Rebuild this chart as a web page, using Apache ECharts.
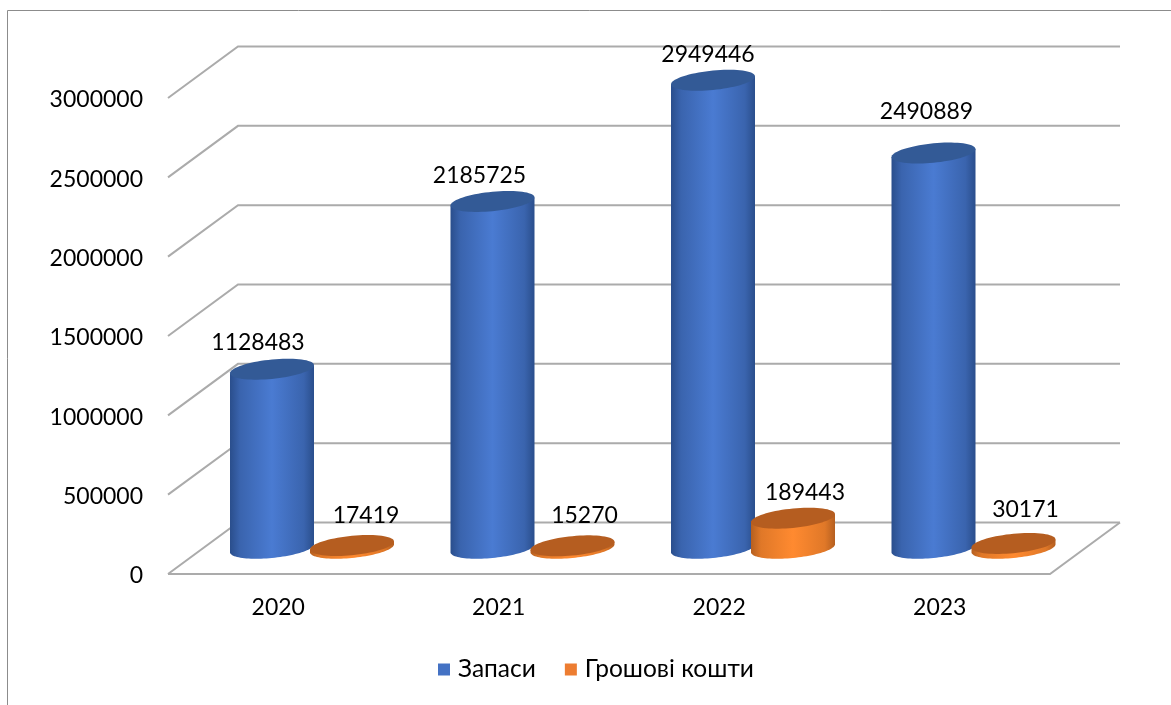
<!DOCTYPE html>
<html><head><meta charset="utf-8">
<style>html,body{margin:0;padding:0;background:#fff;overflow:hidden}#c{width:1171px;height:705px}</style>
<script src="https://cdn.jsdelivr.net/npm/echarts@6/dist/echarts.min.js"></script>
</head><body><div id="c"></div>
<script>
const categories = ['2020','2021','2022','2023'];
const zapasy = [1128483,2185725,2949446,2490889];
const koshty = [17419,15270,189443,30171];
const ticks = [0,500000,1000000,1500000,2000000,2500000,3000000];

// layout of the pseudo-3D view (pixels)
const DEPTH_X = 70, DEPTH_Y = 51.5;
const BAR_RX = 42, BAR_RY = 9.7, BAR_SHEAR = 4;
const FONT = 'Lato';
const FS = 23;
const labelShiftA = [[-14,-27],[-13,-26],[-5,-26],[-7,-41]];
const labelShiftB = [[14,-30],[12,-30],[12,-26],[12,-34]];

function ellipsePts(cx, cy, from, to, n){
  const pts=[];
  for(let i=0;i<=n;i++){
    const t=from+(to-from)*i/n;
    pts.push([cx+BAR_RX*Math.cos(t), cy+BAR_RY*Math.sin(t)-BAR_SHEAR*Math.cos(t)]);
  }
  return pts;
}
function hGrad(edge, mid, edge2){
  return {type:'linear',x:0,y:0,x2:1,y2:0,colorStops:[
    {offset:0,color:edge},{offset:0.12,color:edge2},{offset:0.5,color:mid},{offset:0.88,color:edge2},{offset:1,color:edge}]};
}
function cylinder(shiftX, cols, shifts){
  return function(params, api){
    const i = api.value(0), v = api.value(1);
    const base = api.coord([i,0]), top = api.coord([i,v]);
    const cx = base[0]+shiftX, by = base[1]-DEPTH_Y/2, ty = top[1]-DEPTH_Y/2;
    // body: left side from the top, along the lower half of the base ellipse, back up on the right
    const lowerBase = ellipsePts(cx,by,Math.PI,0,48);
    const poly = [[cx-BAR_RX,ty+BAR_SHEAR]].concat(lowerBase).concat([[cx+BAR_RX,ty-BAR_SHEAR]]);
    const s = shifts[i];
    return {type:'group',children:[
      {type:'polygon',shape:{points:poly},style:{fill:hGrad(cols[0],cols[1],cols[2])}},
      {type:'polygon',shape:{points:ellipsePts(cx,ty,0,Math.PI*2,72)},style:{fill:cols[3]}},
      {type:'text',z2:100,style:{x:cx+s[0],y:ty+s[1],text:String(v),fill:'#000',font:FS+'px '+FONT,align:'center',verticalAlign:'middle'}}
    ]};
  };
}
function gridItem(params, api){
  const v = api.value(1);
  const r = params.coordSys;
  const y = api.coord([0,v])[1];
  const st = {stroke:'#ABABAB',lineWidth:2,fill:null};
  const kids = [
    {type:'polyline',shape:{points:[[r.x,y],[r.x+DEPTH_X,y-DEPTH_Y],[r.x+r.width+DEPTH_X,y-DEPTH_Y]]},style:st}
  ];
  if(v===0) kids.push({type:'polyline',shape:{points:[[r.x,y],[r.x+r.width,y],[r.x+r.width+DEPTH_X,y-DEPTH_Y]]},style:st});
  return {type:'group',children:kids};
}

const chart = echarts.init(document.getElementById('c'),null,{renderer:'canvas'});
chart.setOption({
  animation:false,
  backgroundColor:'#fff',
  graphic:[{type:'rect',z:-10,silent:true,shape:{x:7.5,y:10.5,width:1300,height:900},style:{fill:'#fff',stroke:'#8C8C8C',lineWidth:1}}],
  grid:{left:168,top:98,width:882,height:476},
  xAxis:{type:'category',data:categories,axisLine:{show:false},axisTick:{show:false},
    axisLabel:{color:'#000',fontFamily:FONT,fontSize:FS,margin:22}},
  yAxis:{type:'value',min:0,max:3000000,interval:500000,splitLine:{show:false},axisLine:{show:false},axisTick:{show:false},
    axisLabel:{color:'#000',fontFamily:FONT,fontSize:FS,margin:25,verticalAlign:'top',lineHeight:4,formatter:v=>String(v)}},
  legend:{left:433,top:652,icon:'rect',itemWidth:12,itemHeight:12,itemGap:29,
    data:['Запаси','Грошові кошти'],selectedMode:false,
    textStyle:{color:'#000',fontFamily:FONT,fontSize:24.5,padding:[0,0,0,3]}},
  series:[
    {type:'custom',name:'сітка',silent:true,z:1,renderItem:gridItem,data:ticks.map(t=>[0,t])},
    {type:'custom',name:'Запаси',z:2,renderItem:cylinder(-6.25,['#2A4E8C','#4A7BD2','#3A64AE','#335A96'],labelShiftA),
      itemStyle:{color:'#4472C4'},data:zapasy.map((v,i)=>[i,v])},
    {type:'custom',name:'Грошові кошти',z:3,renderItem:cylinder(73.75,['#B55F20','#FF8A30','#E07828','#B55D20'],labelShiftB),
      itemStyle:{color:'#ED7D31'},data:koshty.map((v,i)=>[i,v])}
  ]
});
</script></body></html>
